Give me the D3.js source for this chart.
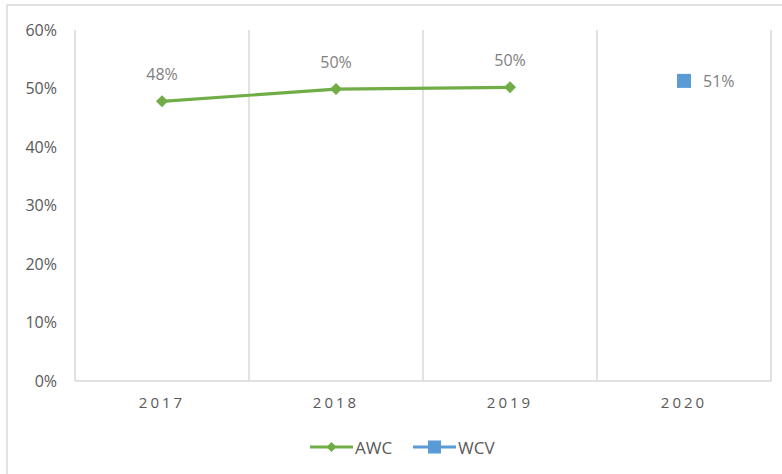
<!DOCTYPE html>
<html><head><meta charset="utf-8">
<script src="https://cdn.jsdelivr.net/npm/d3@7"></script>
<style>body{margin:0;background:#fff;}svg{display:block;}</style>
</head><body>
<svg id="c" width="782" height="474"></svg>
<script>
const categories = ["2017","2018","2019","2020"];
const awcValues = [0.478, 0.499, 0.502, null];
const wcvValues = [null, null, null, 0.513];
const awcLabels = ["48%","50%","50%",null];
const wcvLabels = [null,null,null,"51%"];
const yTicks = [0,0.1,0.2,0.3,0.4,0.5,0.6];
const seriesNames = ["AWC","WCV"];

const svg = d3.select("#c");
const font = "'Liberation Sans Narrow','Open Sans',sans-serif";
const grey = "#595959";
const lgrey = "#7f7f7f";
const green = "#70ad47", blue = "#5b9bd5";

svg.append("rect").attr("x",7).attr("y",5).attr("width",790).attr("height",480)
  .attr("fill","#fff").attr("stroke","#d9d9d9").attr("stroke-width",1.5);

const x = d3.scaleBand().domain(categories).range([75,771]).padding(0);
const y = d3.scaleLinear().domain([0,0.6]).range([381,30]);

const bounds = categories.map(c=>x(c)).concat([x.range()[1]]);
svg.selectAll(".vg").data(bounds).enter().append("line")
  .attr("x1",d=>d).attr("x2",d=>d).attr("y1",y(0.6)).attr("y2",y(0))
  .attr("stroke","#d9d9d9").attr("stroke-width",1.5);
svg.append("line").attr("x1",75).attr("x2",771).attr("y1",y(0)).attr("y2",y(0))
  .attr("stroke","#d9d9d9").attr("stroke-width",1.5);

const yAxis = d3.axisLeft(y).tickValues(yTicks).tickFormat(d3.format(".0%")).tickSize(0).tickPadding(0);
const ya = svg.append("g").attr("transform","translate(57,0)").call(yAxis);
ya.select(".domain").remove();
ya.selectAll("text").attr("font-family","'Open Sans',sans-serif").attr("font-size",16).attr("fill",grey);

const xAxis = d3.axisBottom(x).tickSize(0).tickPadding(0);
const xa = svg.append("g").attr("transform","translate(0,397)").call(xAxis);
xa.select(".domain").remove();
xa.selectAll("text").attr("font-family","'Open Sans',sans-serif").attr("font-size",15).attr("fill",grey)
  .attr("letter-spacing","3px").attr("dy","0.71em");

const cx = c => x(c) + x.bandwidth()/2;

const awcData = categories.map((c,i)=>({c, v:awcValues[i], l:awcLabels[i]})).filter(d=>d.v!=null);
svg.append("path").datum(awcData)
  .attr("d", d3.line().x(d=>cx(d.c)).y(d=>y(d.v)))
  .attr("fill","none").attr("stroke",green).attr("stroke-width",3.2).attr("stroke-linejoin","round");
const diamond = d3.symbol().type(d3.symbolSquare).size(72);
svg.selectAll(".awcm").data(awcData).enter().append("path")
  .attr("d",diamond()).attr("fill",green)
  .attr("transform",d=>`translate(${cx(d.c)},${y(d.v)}) rotate(45)`);
svg.selectAll(".awcl").data(awcData).enter().append("text")
  .attr("x",d=>cx(d.c)).attr("y",d=>y(d.v)-21).attr("text-anchor","middle")
  .attr("font-family","'Open Sans',sans-serif").attr("font-size",16).attr("fill",lgrey).text(d=>d.l);

const wcvData = categories.map((c,i)=>({c, v:wcvValues[i], l:wcvLabels[i]})).filter(d=>d.v!=null);
svg.selectAll(".wcvm").data(wcvData).enter().append("rect")
  .attr("x",d=>cx(d.c)-7).attr("y",d=>y(d.v)-7).attr("width",14).attr("height",14).attr("fill",blue);
svg.selectAll(".wcvl").data(wcvData).enter().append("text")
  .attr("x",d=>cx(d.c)+19).attr("y",d=>y(d.v)+6).attr("text-anchor","start")
  .attr("font-family","'Open Sans',sans-serif").attr("font-size",16).attr("fill",lgrey).text(d=>d.l);

const lg = svg.append("g");
const legendItems = [{n:seriesNames[0], col:green, x0:310, type:"diamond"},{n:seriesNames[1], col:blue, x0:413, type:"square"}];
legendItems.forEach(it=>{
  const ly = 447;
  lg.append("line").attr("x1",it.x0).attr("x2",it.x0+43).attr("y1",ly).attr("y2",ly)
    .attr("stroke",it.col).attr("stroke-width",3.2);
  if(it.type==="diamond"){
    lg.append("path").attr("d",d3.symbol().type(d3.symbolSquare).size(50)()).attr("fill",it.col)
      .attr("transform",`translate(${it.x0+21.5},${ly}) rotate(45)`);
  } else {
    lg.append("rect").attr("x",it.x0+21.5-6.5).attr("y",ly-6.5).attr("width",13).attr("height",13).attr("fill",it.col);
  }
  lg.append("text").attr("x",it.x0+45).attr("y",ly+6.5).attr("font-family",font).attr("font-size",17)
    .attr("fill",grey).text(it.n);
});
</script>
</body></html>
